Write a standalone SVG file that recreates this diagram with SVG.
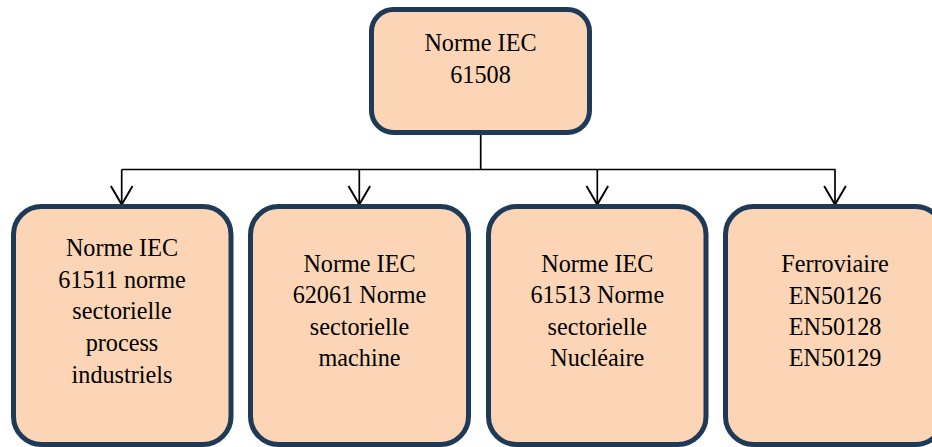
<svg xmlns="http://www.w3.org/2000/svg" width="932" height="447" viewBox="0 0 932 447">
  <style>
    .box { fill: #fbd5b5; stroke: #1f3a56; stroke-width: 5; }
    .lbl { font-family: "Liberation Serif", "Times New Roman", serif; font-size: 24.2px; fill: #000; text-anchor: middle; }
    .conn { fill: none; stroke: #000; stroke-width: 1.7; }
  </style>
  <defs>
    <marker id="arr" markerUnits="userSpaceOnUse" markerWidth="26" markerHeight="26" viewBox="-2 -2 22 24" refX="17" refY="10" orient="auto">
      <path d="M0,0 L17,10 L0,20" fill="none" stroke="#000" stroke-width="1.8"/>
    </marker>
  </defs>
  <rect width="932" height="447" fill="#ffffff"/>

  <g id="connectors">
    <path class="conn" d="M480.7,135 V169.5" stroke-width="2.4"/>
    <path class="conn" d="M121.7,169.5 H835.5"/>
    <path class="conn" d="M121.7,169.5 V204.5" marker-end="url(#arr)"/>
    <path class="conn" d="M359.3,169.5 V204.5" marker-end="url(#arr)"/>
    <path class="conn" d="M597.3,169.5 V204.5" marker-end="url(#arr)"/>
    <path class="conn" d="M835,169.5 V204.5" marker-end="url(#arr)"/>
  </g>

  <g id="node-iec61508">
    <rect class="box" x="371.5" y="9.5" width="218" height="123" rx="22" ry="22"/>
    <text class="lbl" x="480.5" y="51">Norme IEC</text>
    <text class="lbl" x="480.5" y="82.5">61508</text>
  </g>

  <g id="node-iec61511">
    <rect class="box" x="13.5" y="206.5" width="217.5" height="238" rx="28" ry="28"/>
    <text class="lbl" x="122" y="256">Norme IEC</text>
    <text class="lbl" x="122" y="287.7">61511 norme</text>
    <text class="lbl" x="122" y="319.4">sectorielle</text>
    <text class="lbl" x="122" y="351.1">process</text>
    <text class="lbl" x="122" y="382.8">industriels</text>
  </g>

  <g id="node-iec62061">
    <rect class="box" x="250.5" y="206.5" width="218" height="238" rx="28" ry="28"/>
    <text class="lbl" x="359.5" y="271.8">Norme IEC</text>
    <text class="lbl" x="359.5" y="303.3">62061 Norme</text>
    <text class="lbl" x="359.5" y="334.8">sectorielle</text>
    <text class="lbl" x="359.5" y="366.3">machine</text>
  </g>

  <g id="node-iec61513">
    <rect class="box" x="488.5" y="206.5" width="217.5" height="238" rx="28" ry="28"/>
    <text class="lbl" x="597.3" y="271.8">Norme IEC</text>
    <text class="lbl" x="597.3" y="303.3">61513 Norme</text>
    <text class="lbl" x="597.3" y="334.8">sectorielle</text>
    <text class="lbl" x="597.3" y="366.3">Nucléaire</text>
  </g>

  <g id="node-ferroviaire">
    <rect class="box" x="725.5" y="206.5" width="218" height="238" rx="28" ry="28"/>
    <text class="lbl" x="835" y="272">Ferroviaire</text>
    <text class="lbl" x="835" y="303.5">EN50126</text>
    <text class="lbl" x="835" y="335">EN50128</text>
    <text class="lbl" x="835" y="366.3">EN50129</text>
  </g>
</svg>
